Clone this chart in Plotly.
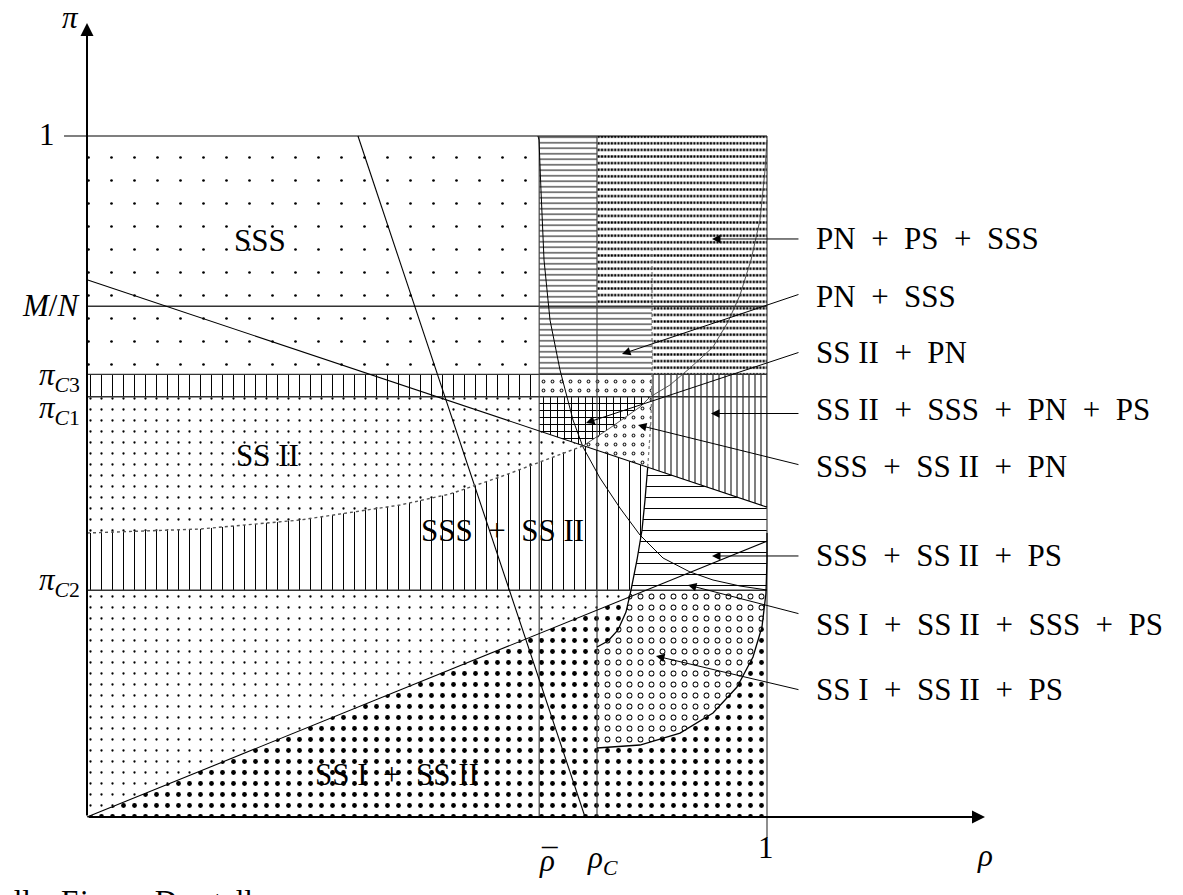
import numpy as np
import plotly.graph_objects as go

# the page body has an 8 px margin, so the figure starts at page pixel (8, 8)
OFF = 8
W, H = 1183 - OFF, 895 - OFF
X0, Y0 = 87 - OFF, 817 - OFF          # figure pixel of (rho, pi) = (0, 0)
SX, SY = 680, 681                     # pixels per unit
X_RANGE = [-X0 / SX, (W - X0) / SX]
Y_RANGE = [(Y0 - H) / SY, Y0 / SY]

# ---------------- data ----------------
rho_bar = 0.665
rho_C = 0.75
pi_C2 = 0.333
pi_C1 = 0.617
pi_C3 = 0.650
M_over_N = 0.750

L1_rho = [0.3985, 0.7324]
L1_pi = [1.0, 0.0]
L2_rho = [0.0, 1.0]
L2_pi = [0.789, 0.455]
L3_rho = [0.0, 1.0]
L3_pi = [0.0, 0.405]

CA_rho = [0.6632, 0.6647, 0.6676, 0.6721, 0.6809, 0.6956, 0.7147, 0.7294, 0.7544,
          0.7838, 0.8132, 0.8471, 0.8868, 0.9206, 0.9603, 1.0]
CA_pi = [1.0, 0.9941, 0.9207, 0.8179, 0.7298, 0.6564, 0.5830, 0.5433, 0.4978,
         0.4537, 0.4141, 0.3803, 0.3598, 0.3480, 0.3392, 0.3333]

CB_rho = [0.0, 0.1662, 0.3132, 0.4603, 0.5338, 0.6074, 0.6662, 0.7294, 0.7691, 0.8132,
          0.8279, 0.8574, 0.8868, 0.9206, 0.9426, 0.9603, 0.9765, 0.9897, 0.9971, 1.0]
CB_pi = [0.4170, 0.4229, 0.4361, 0.4581, 0.4743, 0.4993, 0.5213, 0.5448, 0.5712, 0.6021,
         0.6167, 0.6344, 0.6593, 0.6902, 0.7269, 0.7665, 0.8179, 0.8767, 0.9501, 0.9941]

CC_rho = [0.8309, 0.8309, 0.8309, 0.8294, 0.8265, 0.8235, 0.8206, 0.8162, 0.8088,
          0.8000, 0.7926, 0.7809, 0.7662, 0.7500]
CC_pi = [0.8355, 0.7504, 0.6490, 0.5830, 0.5389, 0.4993, 0.4655, 0.4214, 0.3774,
         0.3333, 0.3010, 0.2746, 0.2584, 0.2496]

CD_rho = [0.75, 0.8132, 0.8721, 0.9206, 0.9559, 0.9794, 0.9926, 0.9985, 1.0, 1.0]
CD_pi = [0.1013, 0.1057, 0.1233, 0.1527, 0.1909, 0.2349, 0.2790, 0.3289, 0.3774, 0.4170]

region_labels = ["SSS", "SS II", "SSS + SS II", "SS I + SS II"]
region_label_rho = [0.2544, 0.2660, 0.6110, 0.4559]
region_label_pi = [0.8470, 0.5302, 0.4214, 0.0617]

side_labels = ["PN + PS + SSS", "PN + SSS", "SS II + PN", "SS II + SSS + PN + PS",
               "SSS + SS II + PN", "SSS + SS II + PS", "SS I + SS II + SSS + PS",
               "SS I + SS II + PS"]
side_label_rho = 1.0691
side_label_pi = [0.8488, 0.7650, 0.6828, 0.5991, 0.5154, 0.3833, 0.2834, 0.1865]
arrow_tail_rho = [1.0485] * 8
arrow_tail_pi = [0.8488, 0.7680, 0.6828, 0.5925, 0.5169, 0.3833, 0.2981, 0.1865]
arrow_head_rho = [0.9191, 0.7868, 0.7338, 0.9176, 0.8103, 0.9191, 0.8838, 0.8368]
arrow_head_pi = [0.8488, 0.6799, 0.5786, 0.5925, 0.5756, 0.3833, 0.3407, 0.2364]

y_tick_text = ["1", "<i>M</i>/<i>N</i>", "<i>π</i><sub><i>C</i>3</sub>",
               "<i>π</i><sub><i>C</i>1</sub>", "<i>π</i><sub><i>C</i>2</sub>"]
y_tick_pi = [1.0029, 0.7504, 0.6460, 0.5976, 0.3450]
x_tick_text = ["<i>ρ</i>", "<i>ρ</i><sub><i>C</i></sub>", "1"]
x_tick_rho = [0.6765, 0.7588, 0.9985]
x_tick_pi = [-0.0632, -0.0631, -0.0455]

FONT = "Liberation Serif"
FS = 31


# ---------------- helpers ----------------
def interp(x, xs, ys):
    return float(np.interp(x, xs, ys))


def L2(r):
    return interp(r, L2_rho, L2_pi)


def L3(r):
    return interp(r, L3_rho, L3_pi)


def CB(r):
    return interp(r, CB_rho, CB_pi)


CC_pi_up = CC_pi[::-1]
CC_rho_up = CC_rho[::-1]


def CCr(p):
    return interp(p, CC_pi_up, CC_rho_up)


def root(f, a, b):
    fa = f(a)
    for _ in range(80):
        m = 0.5 * (a + b)
        fm = f(m)
        if (fm > 0) == (fa > 0):
            a, fa = m, fm
        else:
            b = m
    return 0.5 * (a + b)


rT = root(lambda r: L2(r) - CB(r), 0.6, 0.8)
pT = L2(rT)
pQ = root(lambda p: L2(CCr(p)) - p, 0.4, 0.64)
rQ = CCr(pQ)
pR = root(lambda p: L3(CCr(p)) - p, 0.26, 0.333)
rR = CCr(pR)
rB1 = interp(pi_C1, CB_pi, CB_rho)
rC3 = CCr(pi_C3)
rC2 = CCr(pi_C2)
rMN = CCr(M_over_N)


def cb_seg(r0, r1):
    inner = [(r, p) for r, p in zip(CB_rho, CB_pi) if min(r0, r1) < r < max(r0, r1)]
    if r1 < r0:
        inner = inner[::-1]
    return [(r0, CB(r0))] + inner + [(r1, CB(r1))]


def cc_seg(p0, p1):
    inner = [(r, p) for r, p in zip(CC_rho, CC_pi) if min(p0, p1) < p < max(p0, p1)]
    if p1 > p0:
        inner = inner[::-1]
    return [(CCr(p0), p0)] + inner + [(CCr(p1), p1)]


CD_fill = [(r, p) for r, p in zip(CD_rho, CD_pi) if p < pi_C2] + [(1.0, pi_C2)]

# ---------------- regions ----------------
P1 = [(0, pi_C3), (rho_bar, pi_C3), (rho_bar, 1), (0, 1)]
P2 = [(0, pi_C1), (rho_bar, pi_C1), (rho_bar, pi_C3), (0, pi_C3)]
P3 = [(0, pi_C1), (rho_bar, pi_C1), (rho_bar, L2(rho_bar)), (rT, pT)] + cb_seg(rT, 0)[1:]
P4 = [(rho_bar, pi_C1), (rB1, pi_C1)] + cb_seg(rB1, rT)[1:] + [(rho_bar, L2(rho_bar))]
P5 = [(rho_bar, pi_C1), (rho_bar, pi_C3)] + cc_seg(pi_C3, pQ) + cb_seg(rT, rB1)
P6 = [(rho_bar, 1), (rho_C, 1), (rho_C, M_over_N), (rMN, M_over_N), (rC3, pi_C3), (rho_bar, pi_C3)]
P7 = [(rho_C, 1), (1, 1), (1, pi_C3), (rC3, pi_C3), (rMN, M_over_N), (rho_C, M_over_N)]
P8 = cc_seg(pi_C3, pQ) + [(1, L2(1)), (1, pi_C3)]
P9 = cb_seg(0, rT) + cc_seg(pQ, pi_C2) + [(0, pi_C2)]
P10 = cc_seg(pQ, pi_C2) + [(1, pi_C2), (1, L2(1))]
P11 = [(0, 0), (0, pi_C2)] + cc_seg(pi_C2, pR)
P12 = [(0, 0)] + cc_seg(pR, CC_pi[-1]) + CD_fill + [(1, 0)]
P13 = cc_seg(pi_C2, CC_pi[-1]) + CD_fill


def dot_sol(r, size):
    return np.pi * r * r / (size * size)


fig = go.Figure()


def add_fill(poly, shape, size, solidity, fg="black"):
    xs = [p[0] for p in poly] + [poly[0][0]]
    ys = [p[1] for p in poly] + [poly[0][1]]
    fig.add_trace(go.Scatter(
        x=xs, y=ys, mode="lines", fill="toself", fillcolor="rgba(0,0,0,0)",
        line=dict(width=0, color="rgba(0,0,0,0)"),
        fillpattern=dict(shape=shape, size=size, solidity=solidity, fgcolor=fg,
                         bgcolor="rgba(0,0,0,0)", fgopacity=1, fillmode="replace"),
        hoverinfo="skip", showlegend=False))


add_fill(P1, ".", 23, dot_sol(1.35, 23))
add_fill(P2, "|", 11, 0.09)
add_fill(P3, ".", 11, dot_sol(1.15, 11))
add_fill(P4, "+", 7, 0.265)
add_fill(P5, ".", 9, dot_sol(1.9, 9), "#222")
add_fill(P5, ".", 9, dot_sol(0.9, 9), "white")
add_fill(P6, "-", 5.5, 0.18)
add_fill(P7, "-", 6.6, 0.36)
add_fill(P7, "|", 3.3, 0.3, "white")
add_fill(P8, "|", 6, 0.167)
add_fill(P9, "|", 11, 0.09)
add_fill(P10, "-", 11, 0.09)
add_fill(P11, ".", 11, dot_sol(1.15, 11))
add_fill(P12, ".", 11, dot_sol(2.4, 11))
add_fill(P13, ".", 11, dot_sol(2.9, 11))
add_fill(P13, ".", 11, dot_sol(2.0, 11), "white")


def add_line(xs, ys, width=1.0, color="black", dash="solid"):
    fig.add_trace(go.Scatter(x=list(xs), y=list(ys), mode="lines",
                             line=dict(width=width, color=color, dash=dash),
                             hoverinfo="skip", showlegend=False))


# frame and level lines
add_line([-0.0338, 1], [1, 1], 1.2)
add_line([1, 1], [1, -0.031], 1.2, "#444")
for lvl in [M_over_N, pi_C3, pi_C1, pi_C2]:
    add_line([0, 1], [lvl, lvl], 1.4, "#333")
for v in [rho_bar, rho_C]:
    add_line([v, v], [0, 1], 1.2, "#444")

add_line(L1_rho, L1_pi, 1.1)
add_line(L2_rho, L2_pi, 1.1)
add_line(L3_rho, L3_pi, 1.1)
add_line(CA_rho, CA_pi, 1.0)
cb_left = cb_seg(0, rT)
cb_right = cb_seg(rT, 1.0)
add_line([p[0] for p in cb_left], [p[1] for p in cb_left], 1.4, "#555", "dot")
add_line([p[0] for p in cb_right], [p[1] for p in cb_right], 0.9, "#444")
cc_up = cc_seg(CC_pi[0], pQ)
cc_lo = cc_seg(pQ, CC_pi[-1])
add_line([p[0] for p in cc_up], [p[1] for p in cc_up], 1.2, "#777", "dot")
add_line([p[0] for p in cc_lo], [p[1] for p in cc_lo], 1.3)
add_line(CD_rho, CD_pi, 1.3)

ann = []
# axes with arrows
ann.append(dict(x=(985 - 87) / SX, y=0, ax=0, ay=0, xref="x", yref="y", axref="x", ayref="y",
                text="", showarrow=True, arrowhead=2, arrowsize=1.3, arrowwidth=2,
                arrowcolor="black", standoff=0, startstandoff=0))
ann.append(dict(x=0, y=(817 - 23) / SY, ax=0, ay=0, xref="x", yref="y", axref="x", ayref="y",
                text="", showarrow=True, arrowhead=2, arrowsize=1.3, arrowwidth=2,
                arrowcolor="black", standoff=0, startstandoff=0))

# label arrows
for tr, tp, hr, hp in zip(arrow_tail_rho, arrow_tail_pi, arrow_head_rho, arrow_head_pi):
    ann.append(dict(x=hr, y=hp, ax=tr, ay=tp, xref="x", yref="y", axref="x", ayref="y",
                    text="", showarrow=True, arrowhead=2, arrowsize=1.7, arrowwidth=1,
                    arrowcolor="black", standoff=0, startstandoff=0))

font = dict(family=FONT, size=FS, color="black")
SP = "\u2002"
for t, r, p in zip(region_labels, region_label_rho, region_label_pi):
    ann.append(dict(x=r, y=p, xref="x", yref="y", text=t.replace(" + ", SP + "+" + SP),
                    showarrow=False, font=font, xanchor="center", yanchor="middle"))
for t, p in zip(side_labels, side_label_pi):
    ann.append(dict(x=side_label_rho, y=p, xref="x", yref="y", text=t.replace(" + ", SP + "+" + SP),
                    showarrow=False, font=font, xanchor="left", yanchor="middle"))
for i, (t, p) in enumerate(zip(y_tick_text, y_tick_pi)):
    if i == 0:
        ann.append(dict(x=-0.0588, y=p, xref="x", yref="y", text=t, showarrow=False,
                        font=font, xanchor="center", yanchor="middle"))
    else:
        ann.append(dict(x=-0.0074, y=p, xref="x", yref="y", text=t, showarrow=False,
                        font=font, xanchor="right", yanchor="middle"))
for t, r, p in zip(x_tick_text, x_tick_rho, x_tick_pi):
    ann.append(dict(x=r, y=p, xref="x", yref="y", text=t, showarrow=False,
                    font=font, xanchor="center", yanchor="middle"))
# bar over rho-bar
ann.append(dict(x=x_tick_rho[0] + 0.004, y=x_tick_pi[0], xref="x", yref="y", text="¯",
                showarrow=False, font=font, xanchor="center", yanchor="middle"))
ann.append(dict(x=(985 - 87) / SX, y=-0.0558, xref="x", yref="y", text="<i>ρ</i>", showarrow=False,
                font=font, xanchor="center", yanchor="middle"))
ann.append(dict(x=-0.025, y=1.1733, xref="x", yref="y", text="<i>π</i>", showarrow=False,
                font=font, xanchor="center", yanchor="middle"))
ann.append(dict(x=-48 / W, y=1 - 874 / H, xref="paper", yref="paper",
                text="Quelle: Eigene Darstellung", showarrow=False, font=font,
                xanchor="left", yanchor="top"))

fig.update_layout(
    width=W, height=H, autosize=False,
    margin=dict(l=0, r=0, t=0, b=0, pad=0),
    paper_bgcolor="white", plot_bgcolor="white",
    xaxis=dict(range=X_RANGE, visible=False, fixedrange=True),
    yaxis=dict(range=Y_RANGE, visible=False, fixedrange=True),
    annotations=ann, showlegend=False,
)

fig.write_html("out.html", config={"displayModeBar": False})
